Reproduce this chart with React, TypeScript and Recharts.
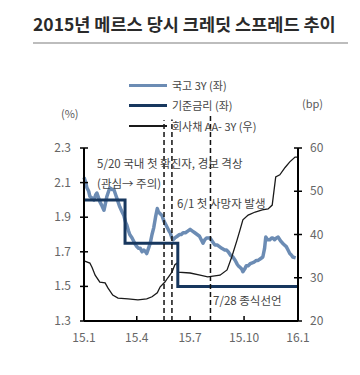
import React from 'react';
import { ComposedChart, Line, XAxis, YAxis, ReferenceLine } from 'recharts';

// day-of-year (2015.1.1 = 0 ... 2016.1.1 = 365)
const bondKtb3y: [number, number][] = [
  [0, 2.13], [3, 2.1], [5, 2.07], [8, 2.05], [10, 2.02], [14, 2.01], [17, 2.0], [20, 2.03], [22, 2.04],
  [25, 2.01], [27, 1.99], [30, 1.97], [34, 1.94], [36, 1.97], [39, 2.02], [42, 2.05], [44, 2.07], [48, 2.06],
  [51, 2.06], [54, 2.03], [56, 2.01], [59, 1.98], [61, 1.96], [65, 1.93], [68, 1.91], [71, 1.87], [73, 1.855],
  [76, 1.82], [78, 1.8], [82, 1.78], [85, 1.76], [88, 1.74], [90, 1.73], [93, 1.72], [96, 1.72], [99, 1.7],
  [102, 1.71], [105, 1.7], [107, 1.69], [110, 1.72], [113, 1.75], [116, 1.8], [119, 1.84], [122, 1.9],
  [125, 1.95], [127, 1.93], [130, 1.92], [133, 1.91], [136, 1.88], [139, 1.86], [142, 1.84], [145, 1.82],
  [147, 1.81], [150, 1.78], [152, 1.77], [155, 1.78], [159, 1.79], [163, 1.8], [166, 1.8], [169, 1.81],
  [173, 1.81], [177, 1.82], [181, 1.83], [185, 1.82], [189, 1.81], [193, 1.8], [197, 1.79], [200, 1.77],
  [203, 1.75], [206, 1.77], [209, 1.78], [212, 1.78], [215, 1.78], [219, 1.76], [223, 1.74], [227, 1.74],
  [231, 1.73], [235, 1.72], [240, 1.71], [243, 1.71], [246, 1.7], [250, 1.68], [254, 1.67], [258, 1.65],
  [261, 1.63], [263, 1.62], [266, 1.61], [269, 1.6], [271, 1.585], [274, 1.6], [277, 1.62], [280, 1.62],
  [283, 1.63], [286, 1.635], [290, 1.64], [294, 1.65], [297, 1.65], [301, 1.66], [305, 1.67], [308, 1.72],
  [310, 1.785], [313, 1.77], [317, 1.77], [320, 1.78], [322, 1.78], [325, 1.77], [328, 1.78], [331, 1.785],
  [334, 1.77], [336, 1.76], [340, 1.745], [345, 1.73], [348, 1.71], [351, 1.69], [354, 1.68], [356, 1.67],
  [361, 1.665],
];

const baseRate: [number, number][] = [
  [0, 2.0], [70, 2.0], [70, 1.75], [160, 1.75], [160, 1.5], [365, 1.5],
];

const corpSpread: [number, number][] = [
  [0, 33.9], [10, 33.4], [14, 32.3], [19, 30.6], [27, 29.0], [36, 28.8], [41, 27.6], [49, 26.0], [58, 25.3],
  [75, 25.1], [92, 24.9], [107, 25.1], [116, 25.6], [125, 26.5], [130, 27.9], [138, 29.0], [143, 30.0],
  [150, 31.3], [155, 33.0], [159, 33.4], [160, 31.3], [181, 31.1], [198, 30.6], [211, 30.2], [232, 30.6],
  [244, 31.8], [252, 34.8], [261, 38.7], [266, 41.0], [271, 43.4], [280, 44.5], [292, 45.2], [304, 45.7],
  [314, 45.9], [321, 46.8], [327, 53.3], [334, 53.8], [343, 55.5], [351, 56.8], [360, 57.9], [365, 57.9],
];

const xTicks = [0, 90, 181, 273, 365];
const xTickLabels = ['15.1', '15.4', '15.7', '15.10', '16.1'];
const leftTicks = [1.3, 1.5, 1.7, 1.9, 2.1, 2.3];
const rightTicks = [20, 30, 40, 50, 60];

const eventDays = [136.5, 150, 215.7];
const eventTops = [2.46, 2.465, 2.49];

const title = '2015년 메르스 당시 크레딧 스프레드 추이';
const legendNames = ['국고 3Y (좌)', '기준금리 (좌)', '회사채 AA- 3Y (우)'];
const notes = ['5/20 국내 첫 확진자, 경보 격상', '(관심→ 주의)', '6/1 첫 사망자 발생', '7/28 종식선언'];

const FONT = '"Noto Sans CJK KR", "Noto Sans", sans-serif';
const TICK_COLOR = '#666';
const BOND_COLOR = '#6c8cb4';
const BASE_COLOR = '#17375e';

const toRows = (arr: [number, number][]) => arr.map(([d, v]) => ({ d, v }));

const LeftTick = (props: any) => {
  const { x, y, payload } = props;
  return (
    <g>
      <line x1={x - 4} x2={x + 4} y1={y} y2={y} stroke="#000" strokeWidth={1.5} />
      <text x={x - 13} y={y} dy={4} textAnchor="end" fontSize={12} fill={TICK_COLOR} fontFamily={FONT}>
        {Number(payload.value).toFixed(1)}
      </text>
    </g>
  );
};

const RightTick = (props: any) => {
  const { x, y, payload } = props;
  return (
    <g>
      <line x1={x - 4} x2={x + 4} y1={y} y2={y} stroke="#000" strokeWidth={1.5} />
      <text x={x + 12} y={y} dy={4} textAnchor="start" fontSize={12} fill={TICK_COLOR} fontFamily={FONT}>
        {payload.value}
      </text>
    </g>
  );
};

const BottomTick = (props: any) => {
  const { x, y, payload } = props;
  const idx = xTicks.indexOf(payload.value);
  return (
    <g>
      <line x1={x} x2={x} y1={y} y2={y - 5} stroke="#000" strokeWidth={1.5} />
      <text x={x} y={y + 21} textAnchor="middle" fontSize={12} fill={TICK_COLOR} fontFamily={FONT}>
        {idx >= 0 ? xTickLabels[idx] : ''}
      </text>
    </g>
  );
};

const abs = (left: number, top: number, extra: React.CSSProperties = {}): React.CSSProperties => ({
  position: 'absolute',
  left,
  top,
  whiteSpace: 'nowrap',
  fontFamily: FONT,
  ...extra,
});

export default function App() {
  return (
    <div style={{ position: 'absolute', left: 0, top: 0, width: 360, height: 375, background: '#fff', overflow: 'hidden' }}>
      <div style={abs(33, 12, { fontSize: 17.5, fontWeight: 700, color: '#2a2a2a', lineHeight: '24px' })}>
        {title}
      </div>
      <div style={{ position: 'absolute', left: 33, top: 42, width: 315, height: 2, background: '#bdbdbd' }} />

      <ComposedChart
        width={360}
        height={375}
        margin={{ top: 148, right: 0, bottom: 24, left: 0 }}
        style={{ position: 'absolute', left: 0, top: 0 }}
      >
        <XAxis
          dataKey="d"
          type="number"
          domain={[0, 365]}
          ticks={xTicks}
          allowDuplicatedCategory={false}
          height={30}
          tickLine={false}
          tickSize={0}
          tickMargin={0}
          tick={<BottomTick />}
          axisLine={{ stroke: '#000', strokeWidth: 2 }}
          interval={0}
        />
        <YAxis
          yAxisId="left"
          orientation="left"
          type="number"
          domain={[1.3, 2.3]}
          ticks={leftTicks}
          width={84}
          tickLine={false}
          tickSize={0}
          tickMargin={0}
          tick={<LeftTick />}
          axisLine={{ stroke: '#000', strokeWidth: 2 }}
          interval={0}
          allowDataOverflow
        />
        <YAxis
          yAxisId="right"
          orientation="right"
          type="number"
          domain={[20, 60]}
          ticks={rightTicks}
          width={62}
          tickLine={false}
          tickSize={0}
          tickMargin={0}
          tick={<RightTick />}
          axisLine={{ stroke: '#000', strokeWidth: 2 }}
          interval={0}
          allowDataOverflow
        />
        <Line
          yAxisId="left"
          data={toRows(bondKtb3y)}
          dataKey="v"
          type="linear"
          stroke={BOND_COLOR}
          strokeWidth={3.5}
          dot={false}
          isAnimationActive={false}
          strokeLinejoin="round"
        />
        <Line
          yAxisId="right"
          data={toRows(corpSpread)}
          dataKey="v"
          type="linear"
          stroke="#1a1a1a"
          strokeWidth={1.3}
          dot={false}
          isAnimationActive={false}
        />
        <Line
          yAxisId="left"
          data={toRows(baseRate)}
          dataKey="v"
          type="linear"
          stroke={BASE_COLOR}
          strokeWidth={3}
          dot={false}
          isAnimationActive={false}
        />
        {eventDays.map((d, i) => (
          <ReferenceLine
            key={i}
            yAxisId="left"
            segment={[{ x: d, y: 1.3 }, { x: d, y: eventTops[i] }]}
            stroke="#111"
            strokeWidth={1.5}
            strokeDasharray="5 3"
            ifOverflow="visible"
          />
        ))}
      </ComposedChart>

      {/* legend */}
      <div style={{ position: 'absolute', left: 129, top: 84, width: 38, height: 3, background: BOND_COLOR }} />
      <div style={{ position: 'absolute', left: 129, top: 104, width: 38, height: 3, background: BASE_COLOR }} />
      <div style={{ position: 'absolute', left: 129, top: 125, width: 38, height: 1.5, background: '#1a1a1a' }} />
      <div style={abs(172, 77, { fontSize: 11, color: '#444', lineHeight: '16px' })}>{legendNames[0]}</div>
      <div style={abs(172, 97, { fontSize: 11, color: '#444', lineHeight: '16px' })}>{legendNames[1]}</div>
      <div style={abs(172, 118, { fontSize: 11, color: '#444', lineHeight: '16px' })}>{legendNames[2]}</div>

      {/* units */}
      <div style={abs(61, 105, { fontSize: 11, color: '#595959', lineHeight: '16px' })}>(%)</div>
      <div style={abs(302, 95, { fontSize: 11, color: '#595959', lineHeight: '16px' })}>(bp)</div>

      {/* annotations */}
      <div style={abs(97, 155, { fontSize: 11.5, color: '#444', lineHeight: '16px' })}>{notes[0]}</div>
      <div style={abs(97, 175, { fontSize: 11.5, color: '#444', lineHeight: '16px' })}>{notes[1]}</div>
      <div style={abs(177, 195, { fontSize: 11.5, color: '#444', lineHeight: '16px' })}>{notes[2]}</div>
      <div style={abs(213, 292, { fontSize: 11.5, color: '#444', lineHeight: '16px' })}>{notes[3]}</div>
    </div>
  );
}
